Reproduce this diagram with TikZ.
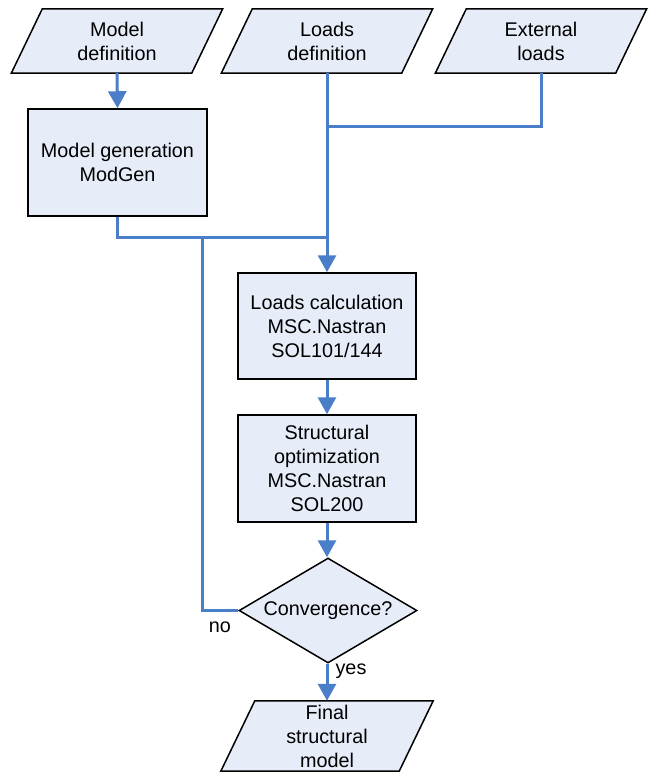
\documentclass[tikz,border=0pt]{standalone}
\usepackage{fontspec}
\setmainfont{Liberation Sans}
\usetikzlibrary{arrows.meta,shapes.geometric,backgrounds,calc}
\definecolor{boxfill}{RGB}{230,236,248}
\definecolor{flowblue}{RGB}{74,126,200}
\newcommand{\paraShape}[2]{%
  \filldraw[parafill] ([xshift=#2]#1.north west) -- ([xshift=#2]#1.north east)
    -- ([xshift=-#2]#1.south east) -- ([xshift=-#2]#1.south west) -- cycle;}
\begin{document}
\begin{tikzpicture}[x=1pt,y=-1pt,
  font=\fontsize{19.8}{24}\selectfont,
  procbox/.style={rectangle, draw=black, fill=boxfill, line width=1.5pt, align=center, inner sep=0pt},
  paratext/.style={rectangle, align=center, inner sep=0pt, minimum width=180pt, minimum height=64pt},
  parafill/.style={draw=black, fill=boxfill, line width=1.5pt},
  decision/.style={diamond, aspect=1.695, draw=black, fill=boxfill, line width=1.5pt, minimum width=178pt, minimum height=105pt, inner sep=0pt},
  flow/.style={draw=flowblue, line width=3pt},
  flowarrow/.style={flow, -{Triangle[width=18pt,length=17pt]}},
  lbl/.style={inner sep=0pt}]
\useasboundingbox (0,0) rectangle (648,772);
\clip (0,0) rectangle (648,772);

% input parallelograms
\node[paratext] (p1) at (117,41) {Model\\definition};
\node[paratext] (p2) at (327,41) {Loads\\definition};
\node[paratext] (p3) at (541,41) {External\\loads};
\node[paratext, minimum width=178pt, minimum height=70pt] (fin) at (327,736) {Final\\structural\\model};

\begin{scope}[on background layer]
  \paraShape{p1}{15.5pt}
  \paraShape{p2}{15.5pt}
  \paraShape{p3}{15.5pt}
  \paraShape{fin}{17pt}
\end{scope}

% process boxes
\node[procbox, minimum width=179pt, minimum height=107pt] (mg) at (117.5,162.5) {Model generation\\ModGen};
\node[procbox, minimum width=178pt, minimum height=106pt] (lc) at (327,326) {Loads calculation\\MSC.Nastran\\SOL101/144};
\node[procbox, minimum width=178pt, minimum height=107pt] (so) at (327,468.5) {Structural\\optimization\\MSC.Nastran\\SOL200};
\node[decision] (d) at (328,610.5) {Convergence?};

% junctions
\coordinate (j1) at (327,126);
\coordinate (j2) at (327,237);
\coordinate (j3) at (202,237);

% connectors
\draw[flowarrow] (p1.south) -- (mg.north);
\draw[flowarrow] (p2.south) -- (lc.north);
\draw[flow] (p3.south) |- (j1);
\draw[flow] (mg.south) |- (j2);
\draw[flow] (d.west) -| (j3);
\draw[flowarrow] (lc.south) -- (so.north);
\draw[flowarrow] (so.south) -- ([xshift=-1pt]d.north);
\draw[flowarrow] ([xshift=-1pt]d.south) -- (fin.north);

% labels
\node[lbl] (nolbl) at (220,627) {no};
\node[lbl] (yeslbl) at (351,671) {yes};
\end{tikzpicture}
\end{document}
